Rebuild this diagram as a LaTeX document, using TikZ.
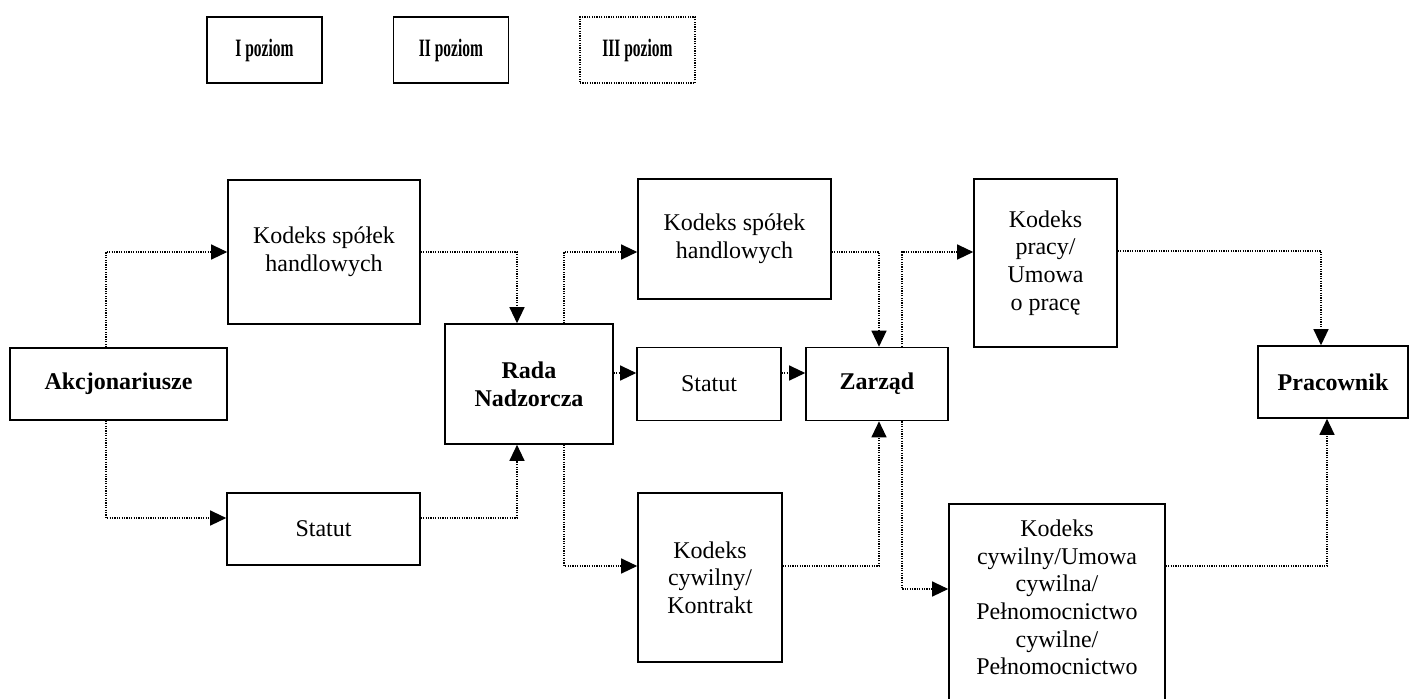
\documentclass[tikz,border=0pt]{standalone}
\usepackage{fontspec}
\setmainfont{Liberation Serif}
\newfontfamily\narrowserif[FakeStretch=0.62]{Liberation Serif}
\usetikzlibrary{arrows.meta,calc}

\begin{document}
\begin{tikzpicture}[x=0.5pt,y=-0.5pt,
  box/.style={draw,line width=0.8pt,inner sep=0pt,align=center,
    font=\fontsize{12}{13.8}\selectfont},
  actor/.style={box,font=\fontsize{12}{13.8}\selectfont\bfseries},
  levelbox/.style={box,minimum width=57.5pt,minimum height=33pt,
    font=\narrowserif\fontsize{12.5}{14}\selectfont\bfseries},
  link/.style={line width=0.6pt,dash pattern=on 0.6pt off 0.6pt,
    -{Triangle[length=8pt,width=7.5pt]}}]
\useasboundingbox (0,0) rectangle (1414,698);
\clip (0,0) rectangle (1414,698);

% legend
\node[levelbox] (lev1) at (264.5,50) {I poziom};
\node[levelbox] (lev2) at (451,50) {II poziom};
\node[levelbox,dash pattern=on 0.6pt off 0.6pt,line width=0.6pt] (lev3) at (637.5,50) {III poziom};

% boxes
\node[actor,minimum width=108.5pt,minimum height=36pt] (akc) at (118.5,384) {Akcjonariusze};
\node[box,minimum width=96pt,minimum height=72pt] (ksh1) at (324,252) {Kodeks spółek\\handlowych};
\node[box,minimum width=96.5pt,minimum height=36pt] (stat1) at (323.5,529) {Statut};
\node[actor,minimum width=84pt,minimum height=60pt] (rada) at (529,384) {Rada\\Nadzorcza};
\node[box,minimum width=96.5pt,minimum height=60pt] (ksh2) at (734.5,239) {Kodeks spółek\\handlowych};
\node[box,minimum width=72pt,minimum height=36.5pt] (stat2) at (709,384) {Statut};
\node[actor,minimum width=71pt,minimum height=36.5pt] (zarz) at (877,384) {Zarząd};
\node[box,minimum width=72pt,minimum height=84.5pt] (kc) at (710,577.5) {Kodeks\\cywilny/\\Kontrakt};
\node[box,minimum width=71.5pt,minimum height=84pt] (kp) at (1045.5,263) {Kodeks\\pracy/\\Umowa\\o pracę};
\node[actor,minimum width=75pt,minimum height=36pt] (prac) at (1333,382) {Pracownik};
\node[box,minimum width=108pt,minimum height=105pt] (kcu) at (1057,609) {};
\node[align=center,inner sep=0pt,font=\fontsize{12}{13.8}\selectfont] (kcutxt) at (1057,597.5)
  {Kodeks\\cywilny/Umowa\\cywilna/\\Pełnomocnictwo\\cywilne/\\Pełnomocnictwo};

% connectors
\draw[link] ($(akc.north)+(-12.5,0)$) |- (ksh1.west);
\draw[link] ($(akc.south)+(-12.5,0)$) |- ($(stat1.west)+(0,-11)$);
\draw[link] (ksh1.east) -| ($(rada.north)+(-12,0)$);
\draw[link] ($(stat1.east)+(0,-11)$) -| ($(rada.south)+(-12,0)$);
\draw[link] ($(rada.north)+(35,0)$) |- ($(ksh2.west)+(0,13)$);
\draw[link] ($(rada.east)+(0,-11)$) -- ($(stat2.west)+(0,-11)$);
\draw[link] ($(stat2.east)+(0,-11)$) -- ($(zarz.west)+(0,-11)$);
\draw[link] ($(ksh2.east)+(0,13)$) -| ($(zarz.north)+(2,0)$);
\draw[link] ($(rada.south)+(35,0)$) |- ($(kc.west)+(0,-11.5)$);
\draw[link] ($(kc.east)+(0,-11.5)$) -| ($(zarz.south)+(2,0)$);
\draw[link] ($(zarz.north)+(25,0)$) |- ($(kp.west)+(0,-11)$);
\draw[link] ($(kp.east)+(0,-12)$) -| ($(prac.north)+(-12,0)$);
\draw[link] ($(zarz.south)+(25,0)$) |- ($(kcu.west)+(0,-20)$);
\draw[link] ($(kcu.east)+(0,-43)$) -| ($(prac.south)+(-6,0)$);
\end{tikzpicture}
\end{document}
